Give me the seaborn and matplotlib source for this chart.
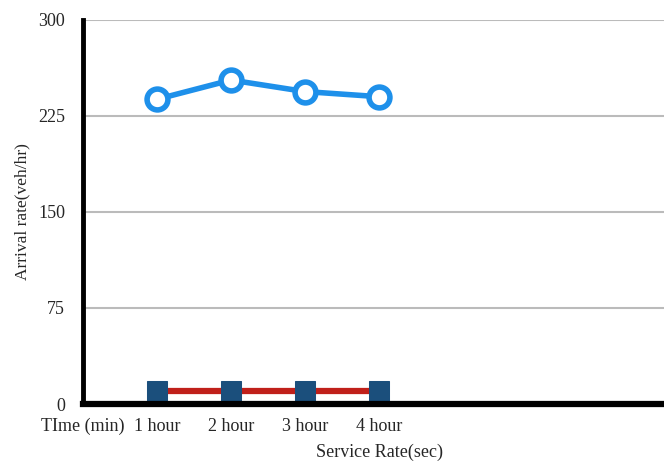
import seaborn as sns
import matplotlib.pyplot as plt
import pandas as pd

# categories on the x axis (first one is the axis caption in the original)
tick_labels = ['TIme (min)', '1 hour', '2 hour', '3 hour', '4 hour']
hours = [1, 2, 3, 4]
arrival = [238, 253, 244, 240]
service = [10, 10, 10, 10]

df = pd.DataFrame({'hour': hours, 'arrival': arrival, 'service': service})

sns.set_style('white')
plt.rcParams['font.family'] = ['Liberation Serif', 'DejaVu Serif']

fig = plt.figure(figsize=(6.64, 4.62), dpi=100)
ax = fig.add_axes([0.125, 0.1255, 0.875, 0.8315])

# arrival rate - blue line, hollow circles
sns.lineplot(data=df, x='hour', y='arrival', ax=ax, color='#1E90EA', linewidth=4,
             marker='o', markersize=15, markerfacecolor='white',
             markeredgecolor='#1E90EA', markeredgewidth=4)
# service rate - red line, navy squares
sns.lineplot(data=df, x='hour', y='service', ax=ax, color='#C0201A', linewidth=4.5,
             marker='s', markersize=15, markerfacecolor='#1B4F7C',
             markeredgecolor='#1B4F7C')

ax.set_xlim(0, 7.85)
ax.set_ylim(0, 300)
ax.set_yticks([0, 75, 150, 225, 300])
ax.set_xticks(range(len(tick_labels)))
ax.set_xticklabels(tick_labels)
ax.yaxis.grid(True, color='#BBBBBB', linewidth=1.5)
ax.set_axisbelow(True)

for s in ['top', 'right']:
    ax.spines[s].set_visible(False)
ax.spines['left'].set_linewidth(3.5)
ax.spines['bottom'].set_linewidth(4.5)
ax.spines['left'].set_color('black')
ax.spines['bottom'].set_color('black')
ax.tick_params(axis='both', length=0, labelsize=13)
ax.tick_params(axis='x', pad=10)
ax.tick_params(axis='y', pad=13)

ax.set_xlabel('Service Rate(sec)', fontsize=13, va='center')
ax.xaxis.set_label_coords(0.51, -0.125)
ax.set_ylabel('Arrival rate(veh/hr)', fontsize=12.5, va='center')
ax.yaxis.set_label_coords(-0.105, 0.5)

fig.savefig('out.png', dpi=100)
